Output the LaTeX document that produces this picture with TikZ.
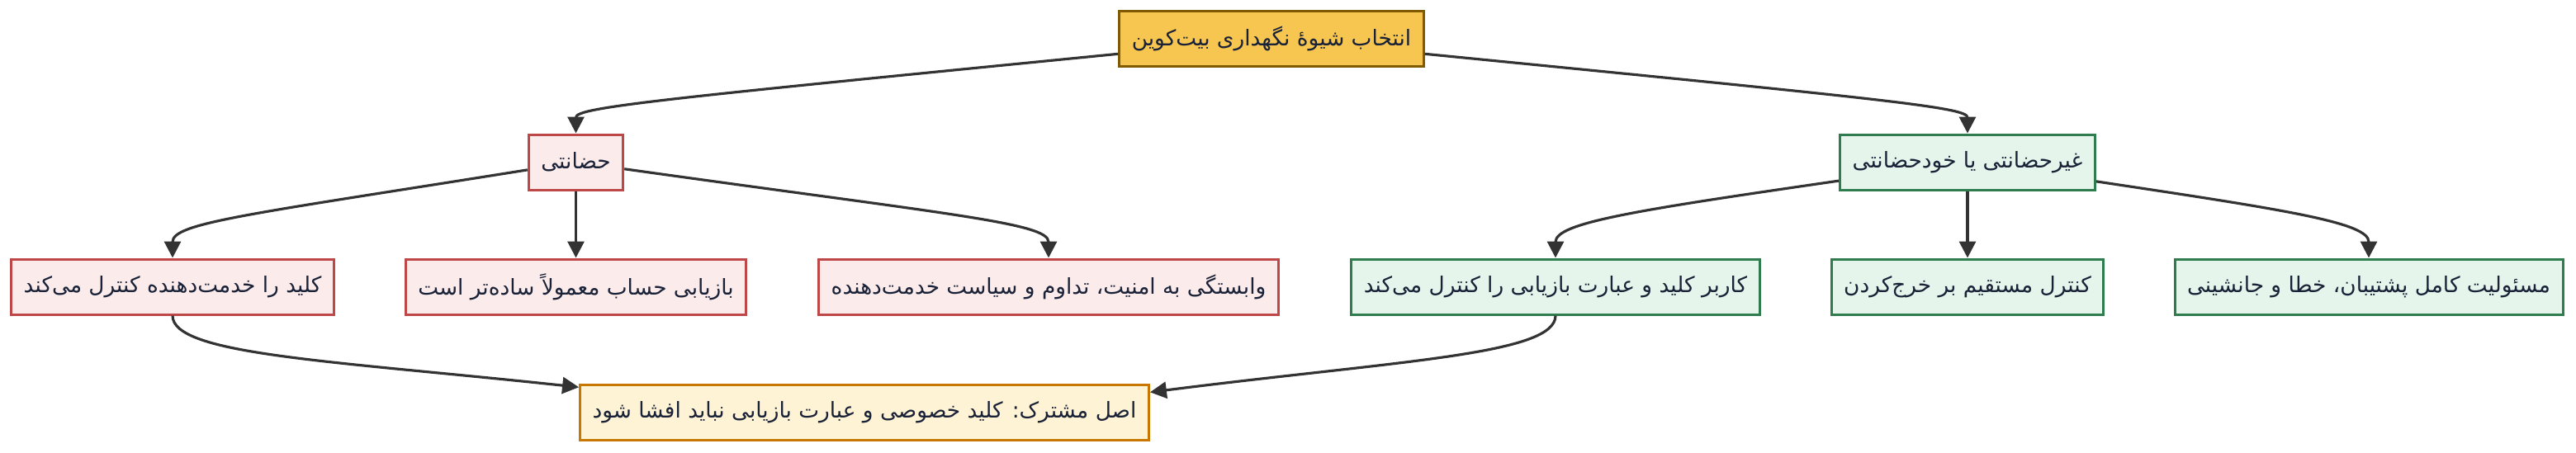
\documentclass[tikz,border=0pt]{standalone}
\usepackage{fontspec}
\usepackage{tikz}
\usetikzlibrary{arrows.meta}
\newfontfamily\arabicfont[Script=Arabic]{DejaVu Sans}
\TeXXeTstate=1
\usepackage{xcolor}
\definecolor{rootfill}{RGB}{247,198,80}
\definecolor{rootdraw}{RGB}{127,90,0}
\definecolor{redfill}{RGB}{252,235,235}
\definecolor{reddraw}{RGB}{190,72,72}
\definecolor{greenfill}{RGB}{230,245,235}
\definecolor{greendraw}{RGB}{47,125,78}
\definecolor{notefill}{RGB}{255,243,214}
\definecolor{notedraw}{RGB}{200,120,0}
\definecolor{textnavy}{RGB}{26,34,56}
\definecolor{arrowgray}{RGB}{51,51,51}
\newcommand{\fatext}[1]{\beginR #1\endR}

\begin{document}
\begin{tikzpicture}[
    box/.style={rectangle, line width=0.85pt, minimum height=0.67cm, inner xsep=0.15cm, text=textnavy, font=\arabicfont\fontsize{7.5}{9}\selectfont},
    rootbox/.style={box, draw=rootdraw, fill=rootfill},
    redbox/.style={box, draw=reddraw, fill=redfill},
    greenbox/.style={box, draw=greendraw, fill=greenfill},
    notebox/.style={box, draw=notedraw, fill=notefill},
    arrow/.style={-{Triangle[length=0.2cm, width=0.2cm]}, line width=0.9pt, arrowgray}
]
    \useasboundingbox (0,0) rectangle (31.2,-5.48);

    % Boxes
    \node[rootbox] (choice) at (15.40,-0.47) {\fatext{انتخاب شیوهٔ نگهداری بیت‌کوین}};
    \node[redbox] (custodial) at (6.975,-1.965) {\fatext{حضانتی}};
    \node[greenbox] (selfcust) at (23.83,-1.965) {\fatext{غیرحضانتی یا خودحضانتی}};
    \node[redbox] (provkey) at (2.09,-3.475) {\fatext{کلید را خدمت‌دهنده کنترل می‌کند}};
    \node[redbox] (easyrec) at (6.975,-3.475) {\fatext{بازیابی حساب معمولاً ساده‌تر است}};
    \node[redbox] (depend) at (12.70,-3.475) {\fatext{وابستگی به امنیت، تداوم و سیاست خدمت‌دهنده}};
    \node[greenbox] (userkey) at (18.84,-3.475) {\fatext{کاربر کلید و عبارت بازیابی را کنترل می‌کند}};
    \node[greenbox] (spend) at (23.83,-3.475) {\fatext{کنترل مستقیم بر خرج‌کردن}};
    \node[greenbox] (fullresp) at (28.69,-3.475) {\fatext{مسئولیت کامل پشتیبان، خطا و جانشینی}};
    \node[notebox] (principle) at (10.47,-4.995) {\fatext{اصل مشترک: کلید خصوصی و عبارت بازیابی نباید افشا شود}};

    % Arrows
    \draw[arrow] (choice) .. controls (8.0,-1.2) and (6.975,-1.3) .. (custodial);
    \draw[arrow] (choice) .. controls (22.8,-1.2) and (23.83,-1.3) .. (selfcust);
    \draw[arrow] (custodial) .. controls (3.0,-2.6) and (2.09,-2.7) .. (provkey);
    \draw[arrow] (custodial) -- (easyrec);
    \draw[arrow] (custodial) .. controls (11.5,-2.6) and (12.70,-2.7) .. (depend);
    \draw[arrow] (selfcust) .. controls (19.8,-2.55) and (18.84,-2.7) .. (userkey);
    \draw[arrow] (selfcust) -- (spend);
    \draw[arrow] (selfcust) .. controls (27.73,-2.55) and (28.69,-2.7) .. (fullresp);
    \draw[arrow] (provkey) .. controls (2.09,-4.3) and (4.0,-4.37) .. (principle.175.5);
    \draw[arrow] (userkey) .. controls (18.84,-4.3) and (16.94,-4.37) .. (principle.4.5);

\end{tikzpicture}
\end{document}
